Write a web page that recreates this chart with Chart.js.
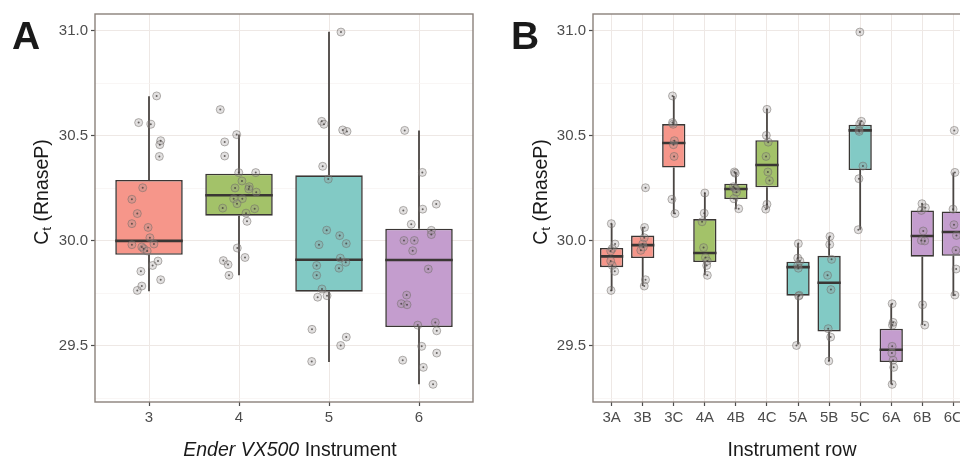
<!DOCTYPE html>
<html>
<head>
<meta charset="utf-8">
<script src="https://cdn.jsdelivr.net/npm/chart.js@4.4.1/dist/chart.umd.min.js"></script>
<style>
    body { margin: 0; width: 960px; height: 460px; overflow: hidden; position: relative; background: #fff;
           font-family: "Liberation Sans", Arial, sans-serif; color: #1a1a1a; }
    canvas { position: absolute; top: 0; }
    .lbl { position: absolute; white-space: nowrap; line-height: 1; }
    .panel { font-weight: bold; font-size: 39px; }
    .ytitle { font-size: 19.5px; transform: translate(-50%, -50%) rotate(-90deg); }
    .ytitle sub { font-size: 0.7em; vertical-align: -0.25em; }
    .xtitle { font-size: 19.5px; transform: translateX(-50%); }
</style>
</head>
<body>
<canvas id="chartA" width="480" height="460" style="left:0"></canvas>
<canvas id="chartB" width="500" height="460" style="left:480px"></canvas>

<div class="lbl panel" style="left:12px;top:16px">A</div>
<div class="lbl panel" style="left:511px;top:16px">B</div>
<div class="lbl ytitle" style="left:43px;top:192px">C<sub>t</sub> (RnaseP)</div>
<div class="lbl ytitle" style="left:542px;top:192px">C<sub>t</sub> (RnaseP)</div>
<div class="lbl xtitle" style="left:290px;top:440px"><i>Ender VX500</i> Instrument</div>
<div class="lbl xtitle" style="left:792px;top:440px">Instrument row</div>

<script>
// shared y axis
const yTicks = [29.25, 29.5, 29.75, 30.0, 30.25, 30.5, 30.75, 31.0];

// panel A: per instrument
const instruments = [3, 4, 5, 6];
const q1A  = [29.934, 30.120, 29.758, 29.590];
const medA = [30.000, 30.217, 29.910, 29.909];
const q3A  = [30.290, 30.320, 30.312, 30.058];
const loA  = [29.760, 29.836, 29.423, 29.317];
const hiA  = [30.688, 30.506, 30.995, 30.526];

const pointsA = [
    [30.690, 30.563, 30.555, 30.477, 30.458, 30.402, 30.253, 30.198, 30.130, 30.082, 30.064, 30.015,
     29.985, 29.982, 29.971, 29.963, 29.952, 29.904, 29.883, 29.855, 29.815, 29.785, 29.764],
    [30.625, 30.506, 30.471, 30.404, 30.325, 30.325, 30.285, 30.258, 30.252, 30.247, 30.232, 30.201,
     30.201, 30.177, 30.156, 30.153, 30.132, 30.093, 29.966, 29.921, 29.906, 29.887, 29.836],
    [30.994, 30.569, 30.555, 30.528, 30.521, 30.355, 30.294, 30.051, 30.025, 29.982, 29.987, 29.918,
     29.898, 29.883, 29.870, 29.836, 29.771, 29.732, 29.739, 29.579, 29.542, 29.502, 29.426],
    [30.526, 30.326, 30.175, 30.145, 30.151, 30.079, 30.050, 30.030, 30.002, 30.002, 29.953, 29.866,
     29.742, 29.701, 29.696, 29.599, 29.612, 29.572, 29.498, 29.466, 29.432, 29.398, 29.317]
];
const jitterA = [
    [0.085, -0.115, 0.02, 0.13, 0.12, 0.115, -0.07, -0.19, -0.13, -0.19, -0.01, 0.01,
     0.055, -0.19, -0.08, -0.06, -0.02, 0.1, 0.04, -0.09, 0.13, -0.08, -0.13],
    [-0.208, -0.026, -0.159, -0.159, -0.003, 0.186, 0.033, 0.114, -0.044, 0.108, 0.192, -0.059,
     0.037, -0.022, -0.181, 0.174, 0.078, 0.089, -0.019, 0.067, -0.174, -0.122, -0.111],
    [0.133, -0.081, -0.056, 0.152, 0.2, -0.07, -0.008, -0.026, 0.119, -0.111, 0.192, 0.126,
     0.186, -0.137, 0.111, -0.137, -0.078, -0.126, -0.022, -0.189, 0.192, 0.13, -0.192],
    [-0.159, 0.037, 0.192, -0.174, 0.041, -0.086, 0.137, 0.137, -0.167, -0.052, -0.07, 0.103,
     -0.137, -0.197, -0.133, -0.014, 0.181, 0.197, 0.03, 0.197, -0.181, 0.048, 0.156]
];

// panel B: per instrument row
const rows = ['3A', '3B', '3C', '4A', '4B', '4C', '5A', '5B', '5C', '6A', '6B', '6C'];
const q1B  = [29.875, 29.918, 30.349, 29.899, 30.199, 30.255, 29.739, 29.569, 30.337, 29.423, 29.925, 29.929];
const medB = [29.926, 29.980, 30.466, 29.942, 30.247, 30.361, 29.875, 29.801, 30.526, 29.482, 30.023, 30.042];
const q3B  = [29.966, 30.025, 30.556, 30.104, 30.272, 30.479, 29.901, 29.929, 30.553, 29.582, 30.145, 30.140];
const loB  = [29.761, 29.785, 30.128, 29.836, 30.151, 30.151, 29.507, 29.428, 30.053, 29.317, 29.599, 29.737];
const hiB  = [30.082, 30.066, 30.690, 30.228, 30.328, 30.626, 29.987, 30.021, 30.569, 29.701, 30.177, 30.325];

const pointsB = [
    [30.082, 29.985, 29.963, 29.952, 29.904, 29.883, 29.855, 29.764],
    [30.253, 30.064, 30.015, 29.985, 29.971, 29.955, 29.815, 29.785],
    [30.690, 30.563, 30.555, 30.477, 30.458, 30.402, 30.198, 30.130],
    [30.228, 30.132, 30.091, 29.968, 29.921, 29.904, 29.883, 29.836],
    [30.328, 30.322, 30.258, 30.252, 30.247, 30.232, 30.201, 30.153],
    [30.626, 30.502, 30.470, 30.402, 30.328, 30.287, 30.174, 30.151],
    [29.987, 29.918, 29.904, 29.883, 29.870, 29.741, 29.737, 29.502],
    [30.021, 29.983, 29.912, 29.836, 29.768, 29.582, 29.542, 29.428],
    [30.994, 30.569, 30.555, 30.528, 30.521, 30.356, 30.296, 30.053],
    [29.701, 29.612, 29.599, 29.498, 29.466, 29.432, 29.398, 29.317],
    [30.177, 30.158, 30.145, 30.047, 30.002, 30.000, 29.696, 29.599],
    [30.526, 30.326, 30.151, 30.077, 30.026, 29.955, 29.866, 29.742]
];
const jitterB = [
    [-0.01, 0.11, 0.02, -0.03, -0.03, 0.02, 0.1, -0.02],
    [0.09, 0.06, 0.05, 0, 0.02, -0.06, 0.09, 0.05],
    [-0.04, -0.04, -0.02, 0.02, -0.01, 0.01, -0.06, 0.04],
    [0, -0.02, -0.09, -0.04, 0.02, 0.08, 0.06, 0.08],
    [-0.05, -0.02, -0.08, -0.04, 0, 0.02, -0.06, 0.09],
    [0, -0.02, 0.04, -0.03, 0.03, 0.08, 0, -0.04],
    [0.01, -0.01, 0.06, -0.01, 0.01, 0.04, 0.02, -0.05],
    [0.03, 0.02, 0.08, -0.05, 0.06, -0.03, 0.05, -0.01],
    [-0.01, 0.04, -0.01, -0.04, -0.03, 0.09, -0.04, -0.06],
    [0.03, 0.06, 0.04, 0.03, 0.02, 0.06, 0.08, 0.03],
    [-0.01, 0.1, -0.03, 0.03, -0.03, 0.08, 0.01, 0.08],
    [0.03, 0.05, -0.01, 0.02, 0.1, 0.08, 0.09, 0.05]
];

const instrumentColors = { 3: '#f6968a', 4: '#a3c269', 5: '#82cac5', 6: '#c49dce' };
const BOX_HALF = 0.375;
const LINE_DARK = '#3a3634';
const GRID_MAJOR = '#eee8e5';
const GRID_MINOR = '#f6f2f0';
const TICK_FONT = { family: '"Liberation Sans", Arial, sans-serif', size: 15 };

const isMajor = v => Math.abs(v * 2 - Math.round(v * 2)) < 1e-6;

const panelBorder = {
    id: 'panelBorder',
    afterDraw(chart) {
        const a = chart.chartArea;
        const ctx = chart.ctx;
        ctx.save();
        ctx.strokeStyle = '#8a817b';
        ctx.lineWidth = 1.4;
        ctx.strokeRect(a.left, a.top, a.right - a.left, a.bottom - a.top);
        ctx.restore();
    }
};

function boxDatasets(xs, q1, med, q3, lo, hi, colors, points, jitter) {
    const whiskers = [];
    const medians = [];
    const pts = [];
    xs.forEach((x, i) => {
        whiskers.push({ x: x, y: lo[i] }, { x: x, y: q1[i] }, { x: x, y: null },
                      { x: x, y: q3[i] }, { x: x, y: hi[i] }, { x: x, y: null });
        medians.push({ x: x - BOX_HALF, y: med[i] }, { x: x + BOX_HALF, y: med[i] }, { x: x, y: null });
        points[i].forEach((v, j) => pts.push({ x: x + jitter[i][j], y: v }));
    });
    return [
        {
            type: 'scatter', data: pts, order: 0,
            pointRadius: 1, pointBackgroundColor: 'rgba(60,56,54,0.75)', pointBorderWidth: 0
        },
        {
            type: 'scatter', data: pts, order: 1,
            pointRadius: 4, pointBackgroundColor: 'rgba(150,145,142,0.28)',
            pointBorderColor: 'rgba(110,105,102,0.5)', pointBorderWidth: 1
        },
        {
            type: 'line', data: medians, order: 2,
            borderColor: LINE_DARK, borderWidth: 2.6, pointRadius: 0, spanGaps: false
        },
        {
            type: 'bar', data: xs.map((x, i) => ({ x: x, y: [q1[i], q3[i]] })), order: 3,
            backgroundColor: colors, borderColor: LINE_DARK, borderWidth: 1.6, borderSkipped: false,
            barPercentage: BOX_HALF * 2, categoryPercentage: 1
        },
        {
            type: 'line', data: whiskers, order: 4,
            borderColor: '#4a4542', borderWidth: 1.8, pointRadius: 0, spanGaps: false
        }
    ];
}

function renderBoxChart(canvas, cfg) {
    return new Chart(canvas, {
        type: 'bar',
        data: { datasets: cfg.datasets },
        options: {
            responsive: false,
            animation: false,
            devicePixelRatio: 1,
            layout: { padding: { top: 14, right: cfg.rightPad, left: 0, bottom: 0 } },
            plugins: { legend: { display: false }, tooltip: { enabled: false } },
            scales: {
                x: {
                    type: 'linear', offset: false, min: cfg.xMin, max: cfg.xMax,
                    afterBuildTicks: s => { s.ticks = cfg.xTicks.map(v => ({ value: v })); },
                    afterFit: s => { s.height = 58; },
                    border: { display: false },
                    grid: { offset: false, color: GRID_MAJOR, lineWidth: 1, tickColor: '#4d4d4d',
                            tickLength: 4, tickWidth: 1.2 },
                    ticks: { font: TICK_FONT, color: '#4d4d4d', padding: 3, maxRotation: 0, autoSkip: false,
                             callback: cfg.xLabel }
                },
                y: {
                    min: 29.233, max: 31.08,
                    afterBuildTicks: s => { s.ticks = yTicks.map(v => ({ value: v })); },
                    afterFit: s => { s.width = cfg.yWidth; },
                    border: { display: false },
                    grid: {
                        color: c => isMajor(c.tick.value) ? GRID_MAJOR : GRID_MINOR,
                        lineWidth: c => isMajor(c.tick.value) ? 1 : 0.7,
                        tickColor: c => isMajor(c.tick.value) ? '#4d4d4d' : 'rgba(0,0,0,0)',
                        tickLength: 4, tickWidth: 1.2
                    },
                    ticks: { font: TICK_FONT, color: '#4d4d4d', padding: 3, autoSkip: false,
                             callback: v => isMajor(v) ? v.toFixed(1) : '' }
                }
            }
        },
        plugins: [panelBorder]
    });
}

renderBoxChart(document.getElementById('chartA'), {
    datasets: boxDatasets(instruments, q1A, medA, q3A, loA, hiA,
                          instruments.map(n => instrumentColors[n]), pointsA, jitterA),
    xMin: 2.4, xMax: 6.6, xTicks: instruments, xLabel: v => String(v),
    yWidth: 95, rightPad: 7
});

const rowX = rows.map((r, i) => i + 1);
renderBoxChart(document.getElementById('chartB'), {
    datasets: boxDatasets(rowX, q1B, medB, q3B, loB, hiB,
                          rows.map(r => instrumentColors[r[0]]), pointsB, jitterB),
    xMin: 0.4, xMax: 12.6, xTicks: rowX, xLabel: v => rows[v - 1],
    yWidth: 113, rightPad: 8
});
</script>
</body>
</html>
